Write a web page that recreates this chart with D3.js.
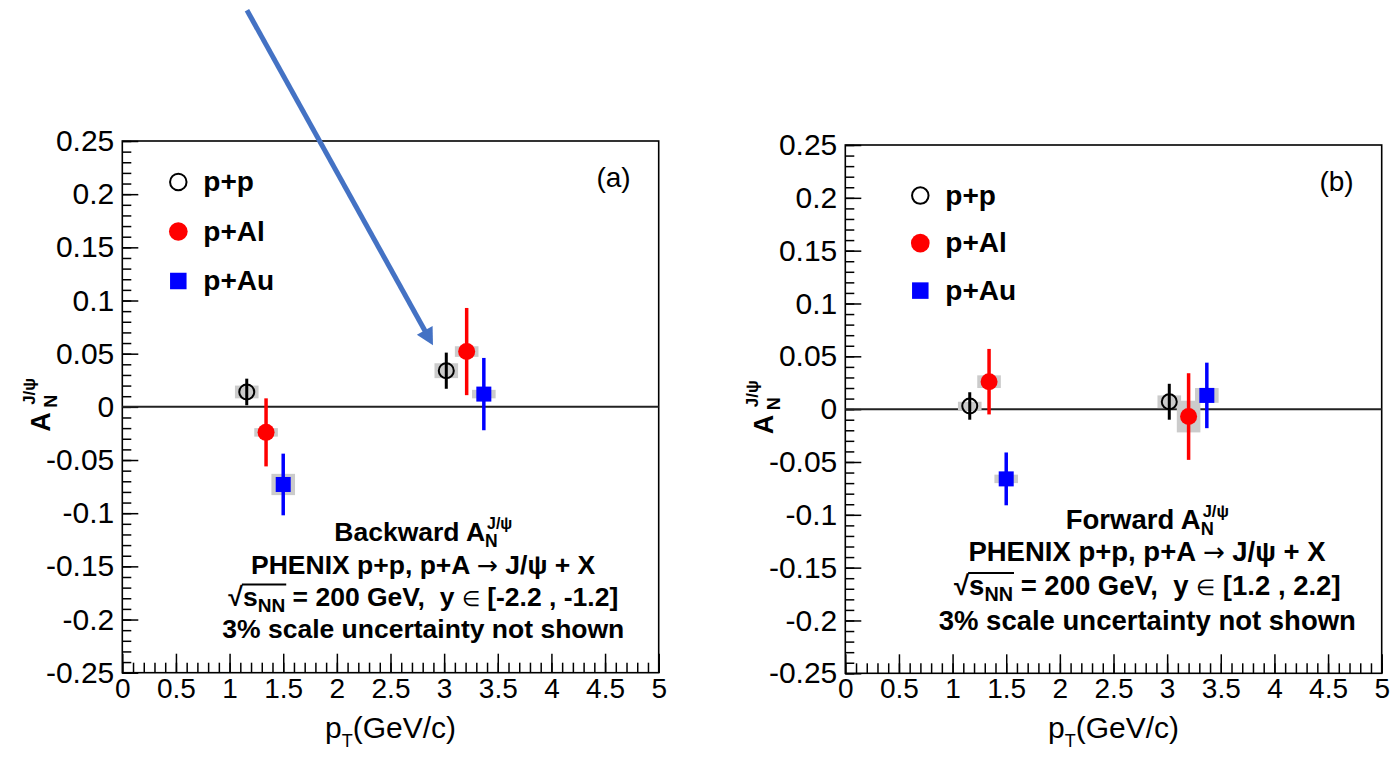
<!DOCTYPE html>
<html>
<head>
<meta charset="utf-8">
<script src="https://cdn.jsdelivr.net/npm/d3@7"></script>
<style>
  body { margin: 0; background: #fff; }
</style>
</head>
<body>
<svg id="chart"></svg>
<script>
// ---- data ----
const systems = ["p+p", "p+Al", "p+Au"];

// Backward, panel (a): one row per system, two pT bins
const bwd_pt   = [[1.16, 3.02], [1.34, 3.21], [1.50, 3.37]];
const bwd_an   = [[0.014, 0.034], [-0.024, 0.052], [-0.073, 0.012]];
const bwd_stat = [[0.0125, 0.017], [0.032, 0.041], [0.029, 0.034]];
const bwd_sys  = [[0.006, 0.007], [0.004, 0.005], [0.010, 0.004]];

// Forward, panel (b)
const fwd_pt   = [[1.16, 3.02], [1.34, 3.20], [1.50, 3.37]];
const fwd_an   = [[0.003, 0.007], [0.026, -0.007], [-0.066, 0.013]];
const fwd_stat = [[0.013, 0.017], [0.031, 0.041], [0.025, 0.031]];
const fwd_sys  = [[0.004, 0.006], [0.006, 0.015], [0.004, 0.007]];

const sys_half_width = 0.11; // pT half width of the grey systematic boxes

const x_ticks  = [0, 0.5, 1, 1.5, 2, 2.5, 3, 3.5, 4, 4.5, 5];
const x_labels = ["0", "0.5", "1", "1.5", "2", "2.5", "3", "3.5", "4", "4.5", "5"];
const y_ticks  = [0.25, 0.2, 0.15, 0.1, 0.05, 0, -0.05, -0.1, -0.15, -0.2, -0.25];
const y_labels = ["0.25", "0.2", "0.15", "0.1", "0.05", "0", "-0.05", "-0.1", "-0.15", "-0.2", "-0.25"];

// blue call-out arrow in panel (a), in data units
const arrow_from = [1.162, 0.373];
const arrow_to   = [2.896, 0.058];

// ---- style ----
const FONT = "'Liberation Sans', Arial, Helvetica, sans-serif";
const COLORS = ["#000000", "#ff0000", "#0000ff"];

const svg = d3.select("#chart").attr("width", 1391).attr("height", 762);

const panels = [
  { x0: 122.3, x1: 658.7, y0: 141, y1: 672.7,
    pt: bwd_pt, an: bwd_an, stat: bwd_stat, sys: bwd_sys,
    tag: "(a)", title: "Backward A", range: "[-2.2 , -1.2]",
    legend: { dx: 56, dy: 41, step: 49.5 },
    note: { cx: 301, size: 26.5, lines: [400, 432.6, 464.7, 497] } },
  { x0: 845.3, x1: 1381.7, y0: 145, y1: 673.3,
    pt: fwd_pt, an: fwd_an, stat: fwd_stat, sys: fwd_sys,
    tag: "(b)", title: "Forward A", range: "[1.2 , 2.2]",
    legend: { dx: 75, dy: 50.6, step: 47.5 },
    note: { cx: 302, size: 27.5, lines: [384, 416, 450, 485] } }
];

function marker(g, i, cx, cy, big) {
  const s = big ? 1.1 : 1;
  if (i === 0) {
    g.append("circle").attr("cx", cx).attr("cy", cy).attr("r", 7.5 * s)
      .attr("fill", "none").attr("stroke", "#000").attr("stroke-width", 2);
  } else if (i === 1) {
    g.append("circle").attr("cx", cx).attr("cy", cy).attr("r", 8.5 * s).attr("fill", COLORS[1]);
  } else {
    const a = 15 * s;
    g.append("rect").attr("x", cx - a / 2).attr("y", cy - a / 2)
      .attr("width", a).attr("height", a).attr("fill", COLORS[2]);
  }
}

function textLine(parent, cx, baseline, size, build) {
  const g = parent.append("g");
  const t = g.append("text")
    .attr("x", 0).attr("y", baseline)
    .attr("font-family", FONT).attr("font-size", size).attr("font-weight", "bold")
    .attr("fill", "#000").style("white-space", "pre");
  build(g, t, baseline, size);
  const bb = t.node().getBBox();
  g.attr("transform", `translate(${cx - bb.x - bb.width / 2},0)`);
}

function drawPanel(p) {
  const x = d3.scaleLinear().domain([0, 5]).range([p.x0, p.x1]);
  const y = d3.scaleLinear().domain([-0.25, 0.25]).range([p.y1, p.y0]);
  const g = svg.append("g");

  //
  // axes
  //
  const y_minor = d3.range(-25, 26).map(d => d / 100);
  const x_minor = d3.range(0, 51).map(d => d / 10);

  g.append("g").attr("transform", `translate(${p.x0},0)`)
    .call(d3.axisLeft(y).tickValues(y_minor).tickSize(-9).tickFormat(""))
    .call(s => s.select(".domain").remove());
  g.append("g").attr("class", "yaxis").attr("transform", `translate(${p.x0},0)`)
    .call(d3.axisLeft(y).tickValues(y_ticks).tickSize(-16).tickPadding(8)
      .tickFormat((d, i) => y_labels[i]))
    .call(s => s.select(".domain").remove());

  g.append("g").attr("transform", `translate(0,${p.y1})`)
    .call(d3.axisBottom(x).tickValues(x_minor).tickSize(-10).tickFormat(""))
    .call(s => s.select(".domain").remove());
  g.append("g").attr("class", "xaxis").attr("transform", `translate(0,${p.y1})`)
    .call(d3.axisBottom(x).tickValues(x_ticks).tickSize(-19).tickPadding(5)
      .tickFormat((d, i) => x_labels[i]))
    .call(s => s.select(".domain").remove());

  g.selectAll(".tick line").attr("stroke", "#000").attr("stroke-width", 1.5);
  g.selectAll(".yaxis text").attr("font-family", FONT).attr("font-size", 30).attr("fill", "#000");
  g.selectAll(".xaxis text").attr("font-family", FONT).attr("font-size", 28).attr("fill", "#000");

  // frame
  g.append("rect")
    .attr("x", p.x0).attr("y", p.y0)
    .attr("width", p.x1 - p.x0).attr("height", p.y1 - p.y0)
    .attr("fill", "none").attr("stroke", "#000").attr("stroke-width", 1.6);

  // zero line
  g.append("line")
    .attr("x1", x(0)).attr("x2", x(5)).attr("y1", y(0)).attr("y2", y(0))
    .attr("stroke", "#222").attr("stroke-width", 2);

  //
  // points
  //
  const pts = [];
  systems.forEach((s, i) => {
    p.pt[i].forEach((v, j) => {
      pts.push({ sys: i, pt: v, an: p.an[i][j], stat: p.stat[i][j], syst: p.sys[i][j] });
    });
  });

  g.selectAll("rect.sysbox").data(pts).enter().append("rect")
    .attr("class", "sysbox")
    .attr("x", d => x(d.pt - sys_half_width))
    .attr("width", d => x(d.pt + sys_half_width) - x(d.pt - sys_half_width))
    .attr("y", d => y(d.an + d.syst))
    .attr("height", d => y(d.an - d.syst) - y(d.an + d.syst))
    .attr("fill", "#cbcbcb");

  g.selectAll("line.err").data(pts).enter().append("line")
    .attr("class", "err")
    .attr("x1", d => x(d.pt)).attr("x2", d => x(d.pt))
    .attr("y1", d => y(d.an + d.stat)).attr("y2", d => y(d.an - d.stat))
    .attr("stroke", d => COLORS[d.sys]).attr("stroke-width", d => d.sys === 0 ? 3 : 3.5);

  pts.forEach(d => marker(g, d.sys, x(d.pt), y(d.an), false));

  //
  // legend
  //
  systems.forEach((s, i) => {
    const cx = p.x0 + p.legend.dx;
    const cy = p.y0 + p.legend.dy + i * p.legend.step;
    marker(g, i, cx, cy, true);
    g.append("text")
      .attr("x", cx + 25).attr("y", cy + 9)
      .attr("font-family", FONT).attr("font-size", 28).attr("font-weight", "bold")
      .text(s);
  });

  // panel tag
  g.append("text")
    .attr("x", p.x1 - 28).attr("y", p.y0 + 46)
    .attr("text-anchor", "end")
    .attr("font-family", FONT).attr("font-size", 28)
    .text(p.tag);

  //
  // text block
  //
  const cx = p.x0 + p.note.cx;
  const L = p.note.lines.map(v => p.y0 + v);
  const fs = p.note.size;

  textLine(g, cx, L[0], fs, (gg, t, b, s) => {
    t.append("tspan").text(p.title);
    const w = t.node().getComputedTextLength();
    t.append("tspan").attr("y", b + 6).attr("font-size", s * 0.66).text("N");
    t.append("tspan").attr("x", w + 2).attr("y", b - 12).attr("font-size", s * 0.6).text("J/ψ");
  });

  textLine(g, cx, L[1], fs, (gg, t) => {
    t.append("tspan").text("PHENIX p+p, p+A ");
    t.append("tspan").attr("font-weight", "normal").attr("font-family", "'DejaVu Sans', sans-serif")
      .attr("font-size", fs * 0.95).text("→");
    t.append("tspan").text(" J/ψ + X");
  });

  textLine(g, cx, L[2], fs, (gg, t, b, s) => {
    t.append("tspan").text("√");
    const xs = t.node().getComputedTextLength();
    t.append("tspan").text("s");
    t.append("tspan").attr("y", b + 6).attr("font-size", s * 0.72).text("NN");
    const xe = t.node().getComputedTextLength();
    t.append("tspan").attr("y", b).text(" = 200 GeV,  y ");
    t.append("tspan").attr("font-weight", "normal").attr("font-size", s * 0.8).text("∈");
    t.append("tspan").text(" " + p.range);
    gg.append("line")
      .attr("x1", xs - 1).attr("x2", xe + 1)
      .attr("y1", b - s * 0.8).attr("y2", b - s * 0.8)
      .attr("stroke", "#000").attr("stroke-width", 1.8);
  });

  textLine(g, cx, L[3], fs, (gg, t) => {
    t.append("tspan").text("3% scale uncertainty not shown");
  });

  //
  // axis titles
  //
  const yt = g.append("text")
    .attr("transform", `translate(${p.x0 - 72},${y(0) + 25}) rotate(-90)`)
    .attr("font-family", FONT).attr("font-weight", "bold");
  yt.append("tspan").attr("x", 0).attr("y", 0).attr("font-size", 27).text("A");
  yt.append("tspan").attr("x", 24).attr("y", 7).attr("font-size", 18).text("N");
  yt.append("tspan").attr("x", 27).attr("y", -15).attr("font-size", 17).text("J/ψ");

  const xt = g.append("text")
    .attr("x", (p.x0 + p.x1) / 2).attr("y", p.y1 + 65)
    .attr("text-anchor", "middle")
    .attr("font-family", FONT).attr("font-size", 30);
  xt.append("tspan").text("p");
  xt.append("tspan").attr("dy", 9).attr("font-size", 18).text("T");
  xt.append("tspan").attr("dy", -9).text("(GeV/c)");

  return { x, y };
}

const scales = panels.map(drawPanel);

// blue arrow pointing at the p+p point in panel (a)
{
  const { x, y } = scales[0];
  const sx = x(arrow_from[0]), sy = y(arrow_from[1]);
  const ex = x(arrow_to[0]), ey = y(arrow_to[1]);
  const len = Math.hypot(ex - sx, ey - sy);
  const ux = (ex - sx) / len, uy = (ey - sy) / len;
  const head = 17, half = 9;
  const bx = ex - ux * head, by = ey - uy * head;
  svg.append("line")
    .attr("x1", sx).attr("y1", sy).attr("x2", bx + ux).attr("y2", by + uy)
    .attr("stroke", "#4472c4").attr("stroke-width", 5);
  svg.append("path")
    .attr("d", `M${ex},${ey} L${bx - uy * half},${by + ux * half} L${bx + uy * half},${by - ux * half} Z`)
    .attr("fill", "#4472c4");
}
</script>
</body>
</html>
